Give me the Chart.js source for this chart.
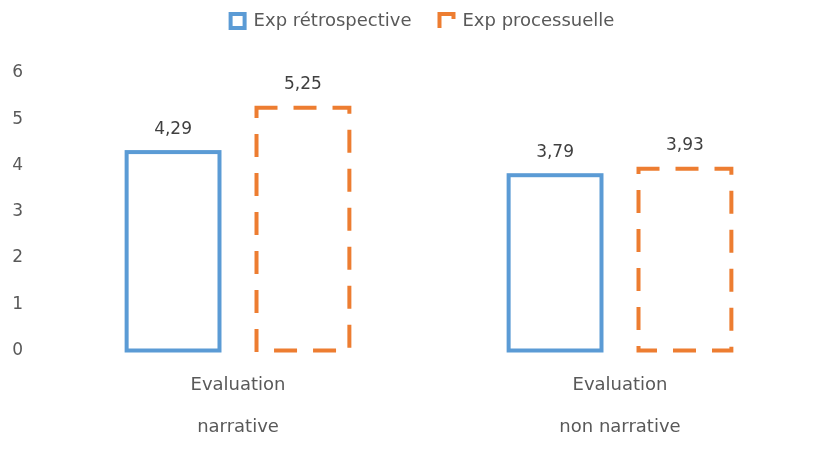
<!DOCTYPE html>
<html lang="fr">
<head>
<meta charset="utf-8">
<title>Evaluation</title>
<script src="https://cdn.jsdelivr.net/npm/chart.js@4/dist/chart.umd.min.js"></script>
<style>
  html, body { margin: 0; padding: 0; background: #fff; }
  #wrap { width: 820px; height: 452px; }
</style>
</head>
<body>
<div id="wrap"><canvas id="evalChart" width="820" height="452"></canvas></div>
<script>
// données
const categories = [['Evaluation', 'narrative'], ['Evaluation', 'non narrative']];
const seriesNames = ['Exp rétrospective', 'Exp processuelle'];
const retroValues = [4.29, 3.79];
const processValues = [5.25, 3.93];
const yTicks = [0, 1, 2, 3, 4, 5, 6];

const blue = '#5B9BD5';
const orange = '#ED7D31';
const textGrey = '#595959';
const fontFamily = '"DejaVu Sans", sans-serif';

const fmt = v => v.toFixed(2).replace('.', ',');

// contour des barres (centré sur le bord, comme Excel) + étiquettes de valeur
const barExtras = {
  id: 'barExtras',
  afterDatasetsDraw(chart) {
    const ctx = chart.ctx;
    chart.data.datasets.forEach((ds, di) => {
      const meta = chart.getDatasetMeta(di);
      meta.data.forEach((bar, i) => {
        const left = bar.x - bar.width / 2;
        const top = Math.min(bar.y, bar.base);
        const h = Math.abs(bar.base - bar.y);
        ctx.save();
        ctx.strokeStyle = ds.outline;
        ctx.lineWidth = 4;
        if (ds.dashed) {
          ctx.lineCap = 'square';
          ctx.setLineDash([19, 20]);
        }
        ctx.strokeRect(left, top, bar.width, h);
        ctx.setLineDash([]);
        ctx.fillStyle = '#404040';
        ctx.font = '17px ' + fontFamily;
        ctx.textAlign = 'center';
        ctx.textBaseline = 'middle';
        ctx.fillText(fmt(ds.data[i]), bar.x, top - 23);
        ctx.restore();
      });
    });
  }
};

// espace sous la légende et décalage horizontal
const legendSpacing = {
  id: 'legendSpacing',
  afterInit(chart) {
    const lg = chart.legend;
    const fit = lg.fit;
    lg.fit = function () {
      fit.call(this);
      this.height += 33;
    };
  },
  afterLayout(chart) {
    chart.legend.left += 17;
    chart.legend.right += 17;
  }
};

new Chart(document.getElementById('evalChart').getContext('2d'), {
  type: 'bar',
  data: {
    labels: categories,
    datasets: [{
      label: seriesNames[0],
      data: retroValues,
      backgroundColor: 'rgba(0,0,0,0)',
      borderWidth: 0,
      outline: blue
    }, {
      label: seriesNames[1],
      data: processValues,
      backgroundColor: 'rgba(0,0,0,0)',
      borderWidth: 0,
      outline: orange,
      dashed: true
    }]
  },
  options: {
    responsive: false,
    animation: false,
    datasets: { bar: { categoryPercentage: 0.68, barPercentage: 0.715 } },
    layout: { padding: { top: -16, right: 9, bottom: -9.5, left: 0 } },
    plugins: {
      tooltip: { enabled: false },
      legend: {
        position: 'top',
        align: 'center',
        labels: {
          color: textGrey,
          font: { family: fontFamily, size: 18 },
          boxWidth: 14,
          boxHeight: 14,
          padding: 28,
          generateLabels: () => [
            { text: seriesNames[0], fillStyle: '#fff', strokeStyle: blue, lineWidth: 4, fontColor: textGrey, datasetIndex: 0 },
            { text: seriesNames[1], fillStyle: '#fff', strokeStyle: orange, lineWidth: 4, lineDash: [19, 23, 15], fontColor: textGrey, datasetIndex: 1 }
          ]
        }
      }
    },
    scales: {
      x: {
        grid: { display: false, drawTicks: false },
        border: { display: false },
        ticks: {
          color: textGrey,
          font: { family: fontFamily, size: 18, lineHeight: '42px' },
          padding: 13.5
        }
      },
      y: {
        min: 0,
        max: 6,
        afterBuildTicks: axis => { axis.ticks = yTicks.map(v => ({ value: v })); },
        afterFit: axis => { axis.width = 47; },
        grid: { display: false, drawTicks: false },
        border: { display: false },
        ticks: {
          color: textGrey,
          font: { family: fontFamily, size: 17 },
          padding: 24
        }
      }
    }
  },
  plugins: [barExtras, legendSpacing]
});
</script>
</body>
</html>
